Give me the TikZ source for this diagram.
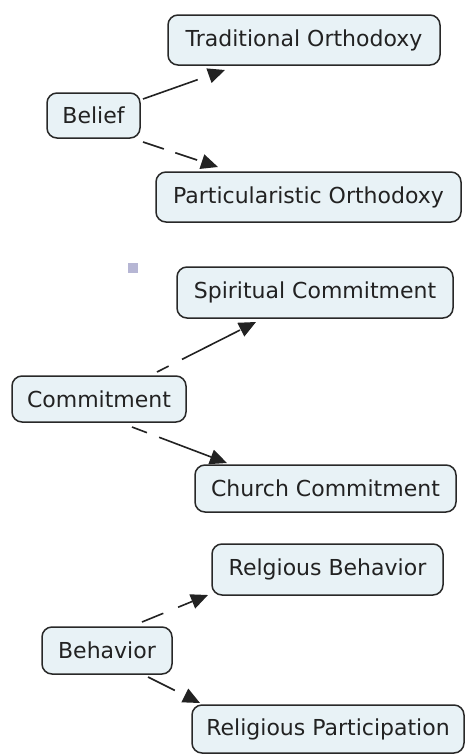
\documentclass[tikz,border=0pt]{standalone}
\usepackage{fontspec}
\setmainfont{DejaVu Sans}
\usetikzlibrary{arrows.meta}
\definecolor{boxfill}{RGB}{232,242,246}
\definecolor{boxline}{RGB}{40,40,40}
\definecolor{marker}{RGB}{182,182,212}
\definecolor{txt}{RGB}{34,34,34}
\begin{document}
\begin{tikzpicture}[x=1pt,y=-1pt,
  concept/.style={draw=boxline, line width=1.5pt, fill=boxfill, rounded corners=10pt,
    inner sep=0pt, font=\fontsize{22}{26}\selectfont, text=txt},
  link/.style={line width=1.6pt, draw=txt, -{Triangle[length=17pt,width=15pt]}}]
\useasboundingbox (0,0) rectangle (466,755);
% concepts
\node[concept, minimum width=272pt, minimum height=50pt] (trad) at (304,40) {Traditional Orthodoxy};
\node[concept, minimum width=93pt, minimum height=45pt] (belief) at (93.5,115.5) {Belief};
\node[concept, minimum width=305pt, minimum height=50pt] (part) at (308.5,197) {Particularistic Orthodoxy};
\node[concept, minimum width=276pt, minimum height=51pt] (spirit) at (315,292.5) {Spiritual Commitment};
\node[concept, minimum width=174pt, minimum height=46pt] (commit) at (99,399) {Commitment};
\node[concept, minimum width=261pt, minimum height=47pt] (church) at (325.5,488.5) {Church Commitment};
\node[concept, minimum width=231pt, minimum height=51pt] (relg) at (327.5,569.5) {Relgious Behavior};
\node[concept, minimum width=130pt, minimum height=47pt] (behav) at (107,650.5) {Behavior};
\node[concept, minimum width=272pt, minimum height=48pt] (partic) at (328,729) {Religious Participation};
% small marker
\fill[marker] (128,263) rectangle (138,273);
% connector end points
\coordinate (b1s) at (143,99);   \coordinate (b1e) at (225,70);
\coordinate (b2s) at (143,142);  \coordinate (b2e) at (218,167);
\coordinate (c1s) at (157,372);  \coordinate (c1e) at (256,322);
\coordinate (c2s) at (132,427);  \coordinate (c2e) at (227,463);
\coordinate (h1s) at (142,622);  \coordinate (h1e) at (208,595);
\coordinate (h2s) at (148,677);  \coordinate (h2e) at (200,703);
% connectors
\draw[link, dash pattern=on 58pt off 20pt] (b1s) -- (b1e);
\draw[link, dash pattern=on 22pt off 12pt on 23pt off 20pt] (b2s) -- (b2e);
\draw[link, dash pattern=on 13pt off 15pt on 65pt off 20pt] (c1s) -- (c1e);
\draw[link, dash pattern=on 16pt off 13pt on 59pt off 20pt] (c2s) -- (c2e);
\draw[link, dash pattern=on 23pt off 16pt on 16pt off 20pt] (h1s) -- (h1e);
\draw[link, dash pattern=on 30pt off 30pt] (h2s) -- (h2e);
\end{tikzpicture}
\end{document}
